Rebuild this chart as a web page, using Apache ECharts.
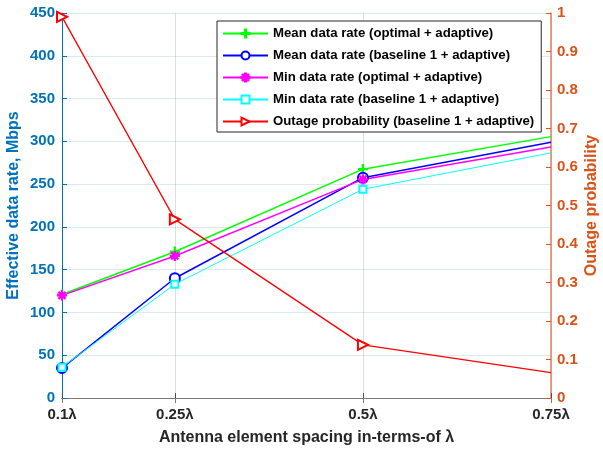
<!DOCTYPE html>
<html>
<head>
    <meta charset="UTF-8">
    <title>Data rate vs antenna spacing</title>
    <script src="https://cdn.jsdelivr.net/npm/echarts@6/dist/echarts.min.js"></script>
    <style>
        html, body { margin: 0; padding: 0; background: #fff; }
        #chart { width: 603px; height: 449px; }
    </style>
</head>
<body>
	<div id="chart"></div>
	<script type="text/javascript">
		// values
		var spacing = [0.1, 0.25, 0.5, 0.75];
		var xTicks = [0.1, 0.25, 0.5, 0.75];
		var meanOptimal = [121, 171, 267.5, 305.5];
		var meanBaseline = [35, 140, 257.5, 299];
		var minOptimal = [120, 166, 255.5, 293.5];
		var minBaseline = [36, 133, 244, 286.5];
		var outageBaseline = [0.99, 0.464, 0.138, 0.066];

		var plusIcon = 'path://M0,4.3H10V5.7H0Z M4.3,0H5.7V10H4.3Z';
		var starIcon = 'path://M0,4.4H10V5.6H0Z M4.4,0H5.6V10H4.4Z M1.1,1.9L1.9,1.1L8.9,8.1L8.1,8.9Z M8.1,1.1L8.9,1.9L1.9,8.9L1.1,8.1Z';
		var font = 'Liberation Sans, Arial, Helvetica, sans-serif';

		// no marker drawn on the last point in the figure
		function pairs(ys) {
			var out = [];
			for (var i = 0; i < ys.length; i++) {
				if (i == ys.length - 1) {
					out.push({ value: [spacing[i], ys[i]], symbol: 'none' });
				} else {
					out.push([spacing[i], ys[i]]);
				}
			}
			return out;
		}

		function lineSeries(name, ys, color, width, symbol, size, yIndex, rotate) {
			return {
				name: name,
				type: 'line',
				yAxisIndex: yIndex,
				data: pairs(ys),
				symbol: symbol,
				symbolSize: size,
				symbolRotate: rotate || 0,
				showAllSymbol: true,
				clip: false,
				lineStyle: { color: color, width: width },
				itemStyle: { color: color, borderColor: color, borderWidth: 1.2 },
				emphasis: { disabled: true },
				animation: false
			};
		}

		var myChart = echarts.init(document.getElementById('chart'));
		var option = {
			animation: false,
			textStyle: { fontFamily: font },
			grid: { left: 62, right: 52, top: 13, bottom: 51, containLabel: false, outerBoundsMode: 'none' },
			legend: {
				orient: 'vertical',
				left: 217,
				top: 21,
				itemWidth: 45,
				itemHeight: 10,
				itemGap: 9,
				padding: [6, 7, 4, 5],
				backgroundColor: '#fff',
				borderColor: '#262626',
				borderWidth: 1,
				borderRadius: 0,
				textStyle: { fontFamily: font, fontSize: 13.2, fontWeight: 'bold', color: '#000' },
				selectedMode: false
			},
			xAxis: [{
				type: 'value',
				min: 0.1,
				max: 0.75,
				name: 'Antenna element spacing in-terms-of \u03bb',
				nameLocation: 'middle',
				nameGap: 32,
				nameMoveOverlap: false,
				nameTextStyle: { fontSize: 16, fontWeight: 'bold', color: '#262626' },
				axisLine: { lineStyle: { color: '#4d4d4d', width: 1 } },
				axisTick: { inside: true, length: 5, customValues: xTicks, lineStyle: { color: '#4d4d4d' } },
				axisLabel: {
					customValues: xTicks,
					margin: 9,
					fontSize: 15,
					fontWeight: 'bold',
					color: '#262626',
					formatter: function (v) { return v + '\u03bb'; }
				},
				splitLine: { show: true, lineStyle: { color: 'rgba(38,38,38,0.15)', width: 1 } }
			}, {
				type: 'value',
				position: 'top',
				min: 0.1,
				max: 0.75,
				axisLine: { show: true, lineStyle: { color: '#7a7a7a', width: 1 } },
				axisTick: { show: true, inside: true, length: 5, customValues: xTicks, lineStyle: { color: '#7a7a7a' } },
				axisLabel: { show: false },
				splitLine: { show: false }
			}],
			yAxis: [{
				type: 'value',
				min: 0,
				max: 450,
				interval: 50,
				name: 'Effective data rate, Mbps',
				nameLocation: 'middle',
				nameGap: 40,
				nameMoveOverlap: false,
				nameTextStyle: { fontSize: 16, fontWeight: 'bold', color: '#0072BD' },
				axisLine: { show: true, lineStyle: { color: '#0072BD', width: 1 } },
				axisTick: { show: true, inside: true, length: 5, lineStyle: { color: '#0072BD' } },
				axisLabel: { margin: 7, fontSize: 15, fontWeight: 'bold', color: '#0072BD' },
				splitLine: { show: true, lineStyle: { color: 'rgba(0,114,189,0.15)', width: 1 } }
			}, {
				type: 'value',
				position: 'right',
				min: 0,
				max: 1,
				interval: 0.1,
				name: 'Outage probability',
				nameLocation: 'middle',
				nameGap: 33,
				nameRotate: 90,
				nameMoveOverlap: false,
				nameTextStyle: { fontSize: 16, fontWeight: 'bold', color: '#D95319' },
				axisLine: { show: true, lineStyle: { color: '#E07F5C', width: 1.5 } },
				axisTick: { show: true, inside: true, length: 5, lineStyle: { color: '#D95319' } },
				axisLabel: { margin: 6, fontSize: 15, fontWeight: 'bold', color: '#D95319' },
				splitLine: { show: false }
			}],
			series: [
				lineSeries('Mean data rate (optimal + adaptive)', meanOptimal, '#00FF00', 1.5, plusIcon, 9, 0),
				lineSeries('Mean data rate (baseline 1 + adaptive)', meanBaseline, '#0000FF', 1.5, 'emptyCircle', 10, 0),
				lineSeries('Min data rate (optimal + adaptive)', minOptimal, '#FF00FF', 1.5, starIcon, 9, 0),
				lineSeries('Min data rate (baseline 1 + adaptive)', minBaseline, '#00FFFF', 1, 'emptyRect', 7, 0),
				lineSeries('Outage probability (baseline 1 + adaptive)', outageBaseline, '#FF0000', 1.3, 'emptyTriangle', 10, 1, -90)
			]
		};
		myChart.setOption(option);
	</script>
</body>
</html>
